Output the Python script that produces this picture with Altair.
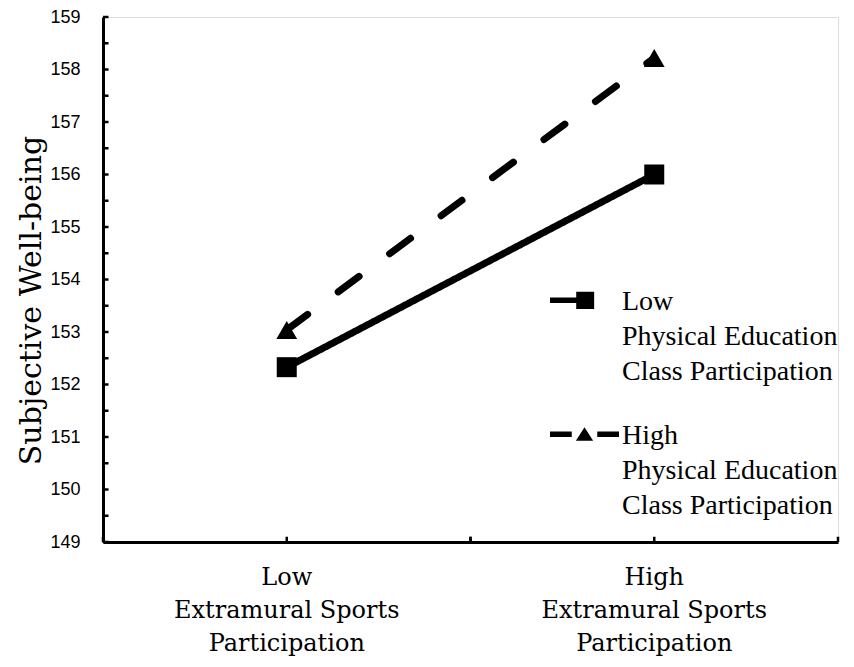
import json
import altair as alt
import pandas as pd

# ---------------- data ----------------
esp_levels = ["Low", "High"]
esp_axis_lines = [["Low", "Extramural Sports", "Participation"],
                  ["High", "Extramural Sports", "Participation"]]
pe_groups = ["Low", "High"]
pe_legend_lines = [["Low", "Physical Education", "Class Participation"],
                   ["High", "Physical Education", "Class Participation"]]
low_pe_wellbeing = [152.33, 156.00]
high_pe_wellbeing = [153.04, 158.22]
y_domain = [149, 159]
y_tick_values = [149, 149.5, 150, 150.5, 151, 151.5, 152, 152.5, 153, 153.5,
                 154, 154.5, 155, 155.5, 156, 156.5, 157, 157.5, 158, 158.5, 159]
y_title = "Subjective Well-being"

rows = []
for grp, vals in zip(pe_groups, [low_pe_wellbeing, high_pe_wellbeing]):
    for lvl, v in zip(esp_levels, vals):
        rows.append({"esp": lvl, "pe": grp, "swb": v})
df = pd.DataFrame(rows)
x_tick_df = pd.DataFrame({"esp": esp_levels})
y_tick_df = pd.DataFrame({"esp": [esp_levels[0]] * len(y_tick_values),
                          "swb": y_tick_values})


def lines_expr(keys, lines):
    expr = "datum.label"
    for k, l in reversed(list(zip(keys, lines))):
        expr = f"datum.label === {json.dumps(k)} ? {json.dumps(l)} : ({expr})"
    return expr


# legend symbols (custom paths, unit box [-1,1]; drawn a little low so they
# sit beside the first label line)
LOW_PATH = ("M-1,0.29L-0.24,0.29L-0.24,0.12L0.28,0.12L0.28,0.62"
            "L-0.24,0.62L-0.24,0.45L-1,0.45Z")
HIGH_PATH = ("M-1,0.29L-0.37,0.29L-0.37,0.45L-1,0.45Z"
             "M-0.25,0.56L0,0.17L0.25,0.56Z"
             "M0.37,0.29L1,0.29L1,0.45L0.37,0.45Z")

SERIF = "Liberation Serif"
WIDE_SERIF = "DejaVu Serif"
SANS = "Liberation Sans"

x_sort = esp_levels
x_scale = alt.Scale(type="band", paddingInner=0, paddingOuter=0)


def build(inner_y_ticks):
    x_enc = alt.X(
        "esp:N", sort=x_sort, scale=x_scale,
        axis=alt.Axis(
            title=None, labelAngle=0,
            labelExpr=lines_expr(esp_levels, esp_axis_lines),
            labelFont=WIDE_SERIF, labelFontSize=24, labelLineHeight=33,
            labelColor="black", labelPadding=23, labelLimit=400,
            ticks=False, tickSize=0,
            domainColor="black", domainWidth=3, grid=False,
        ),
    )
    y_axis_kw = dict(
        values=y_tick_values,
        labelExpr="datum.value % 1 === 0 ? datum.label : ''",
        labelOverlap=False,
        title=y_title, titleFont=WIDE_SERIF, titleFontSize=30,
        titleFontWeight="normal", titleColor="black", titlePadding=3,
        titleY=283,
        labelFont=SANS, labelFontSize=18, labelColor="black",
        domainColor="black", domainWidth=3, grid=False,
    )
    if inner_y_ticks:
        y_axis_kw.update(ticks=False, tickSize=0, labelPadding=23)
    else:
        y_axis_kw.update(ticks=True, tickSize=5, tickWidth=2.5,
                         tickColor="black", labelPadding=18)
    y_enc = alt.Y(
        "swb:Q",
        scale=alt.Scale(domain=y_domain, nice=False, zero=False),
        axis=alt.Axis(**y_axis_kw),
    )

    base = alt.Chart(df)

    lines = base.mark_line(color="black", strokeWidth=7, strokeCap="round").encode(
        x=x_enc, y=y_enc,
        detail="pe:N",
        strokeDash=alt.StrokeDash(
            "pe:N", scale=alt.Scale(domain=pe_groups, range=[[1, 0], [26, 38]]),
            legend=None),
    )

    points = base.mark_point(filled=True, color="black", opacity=1).encode(
        x=alt.X("esp:N", sort=x_sort),
        y=alt.Y("swb:Q"),
        shape=alt.Shape("pe:N",
                        scale=alt.Scale(domain=pe_groups,
                                        range=["square", "triangle-up"]),
                        legend=None),
        size=alt.Size("pe:N",
                      scale=alt.Scale(domain=pe_groups, range=[400, 430]),
                      legend=None),
    )

    legend_layer = base.mark_point(filled=True, color="black", opacity=0).encode(
        x=alt.X("esp:N", sort=x_sort),
        y=alt.Y("swb:Q"),
        shape=alt.Shape(
            "pe:N",
            scale=alt.Scale(domain=pe_groups, range=[LOW_PATH, HIGH_PATH]),
            legend=alt.Legend(
                title=None, orient="none", legendX=447, legendY=236,
                direction="vertical", padding=0,
                symbolSize=4761, symbolOpacity=1,
                symbolFillColor="black", symbolStrokeColor="black",
                symbolStrokeWidth=0,
                labelFont=SERIF, labelFontSize=28, labelColor="black",
                labelOffset=3, labelBaseline="top", labelLimit=400,
                rowPadding=1,
                labelExpr=lines_expr(pe_groups, pe_legend_lines),
            ),
        ),
    )

    def x_ticks(band_pos):
        return alt.Chart(x_tick_df).mark_rule(color="black", strokeWidth=2.5).encode(
            x=alt.X("esp:N", sort=x_sort, bandPosition=band_pos),
            y=alt.datum(149),
            y2=alt.datum(149.1),
        )

    layers = [lines, points, legend_layer, x_ticks(0), x_ticks(0.5), x_ticks(1)]
    if inner_y_ticks:
        y_ticks = alt.Chart(y_tick_df).mark_rule(color="black", strokeWidth=2.5).encode(
            x=alt.X("esp:N", sort=x_sort, bandPosition=0),
            x2=alt.X2("esp:N", bandPosition=0.015),
            y=alt.Y("swb:Q"),
        )
        layers.append(y_ticks)

    chart = alt.layer(*layers).resolve_scale(
        shape="independent", size="independent"
    ).properties(
        width=735, height=525,
        autosize=alt.AutoSizeParams(type="none"),
        padding={"left": 95, "top": 9, "right": 8, "bottom": 117},
        background="white",
    ).configure_view(stroke=None).configure(
        style={"guide-label": {"lineHeight": 35}}
    )
    return chart


chart = None
for inner in (True, False):
    try:
        c = build(inner)
        c.to_dict()
        chart = c
        break
    except Exception:
        continue

chart.save("out.html", embed_options={"renderer": "svg", "actions": False})
